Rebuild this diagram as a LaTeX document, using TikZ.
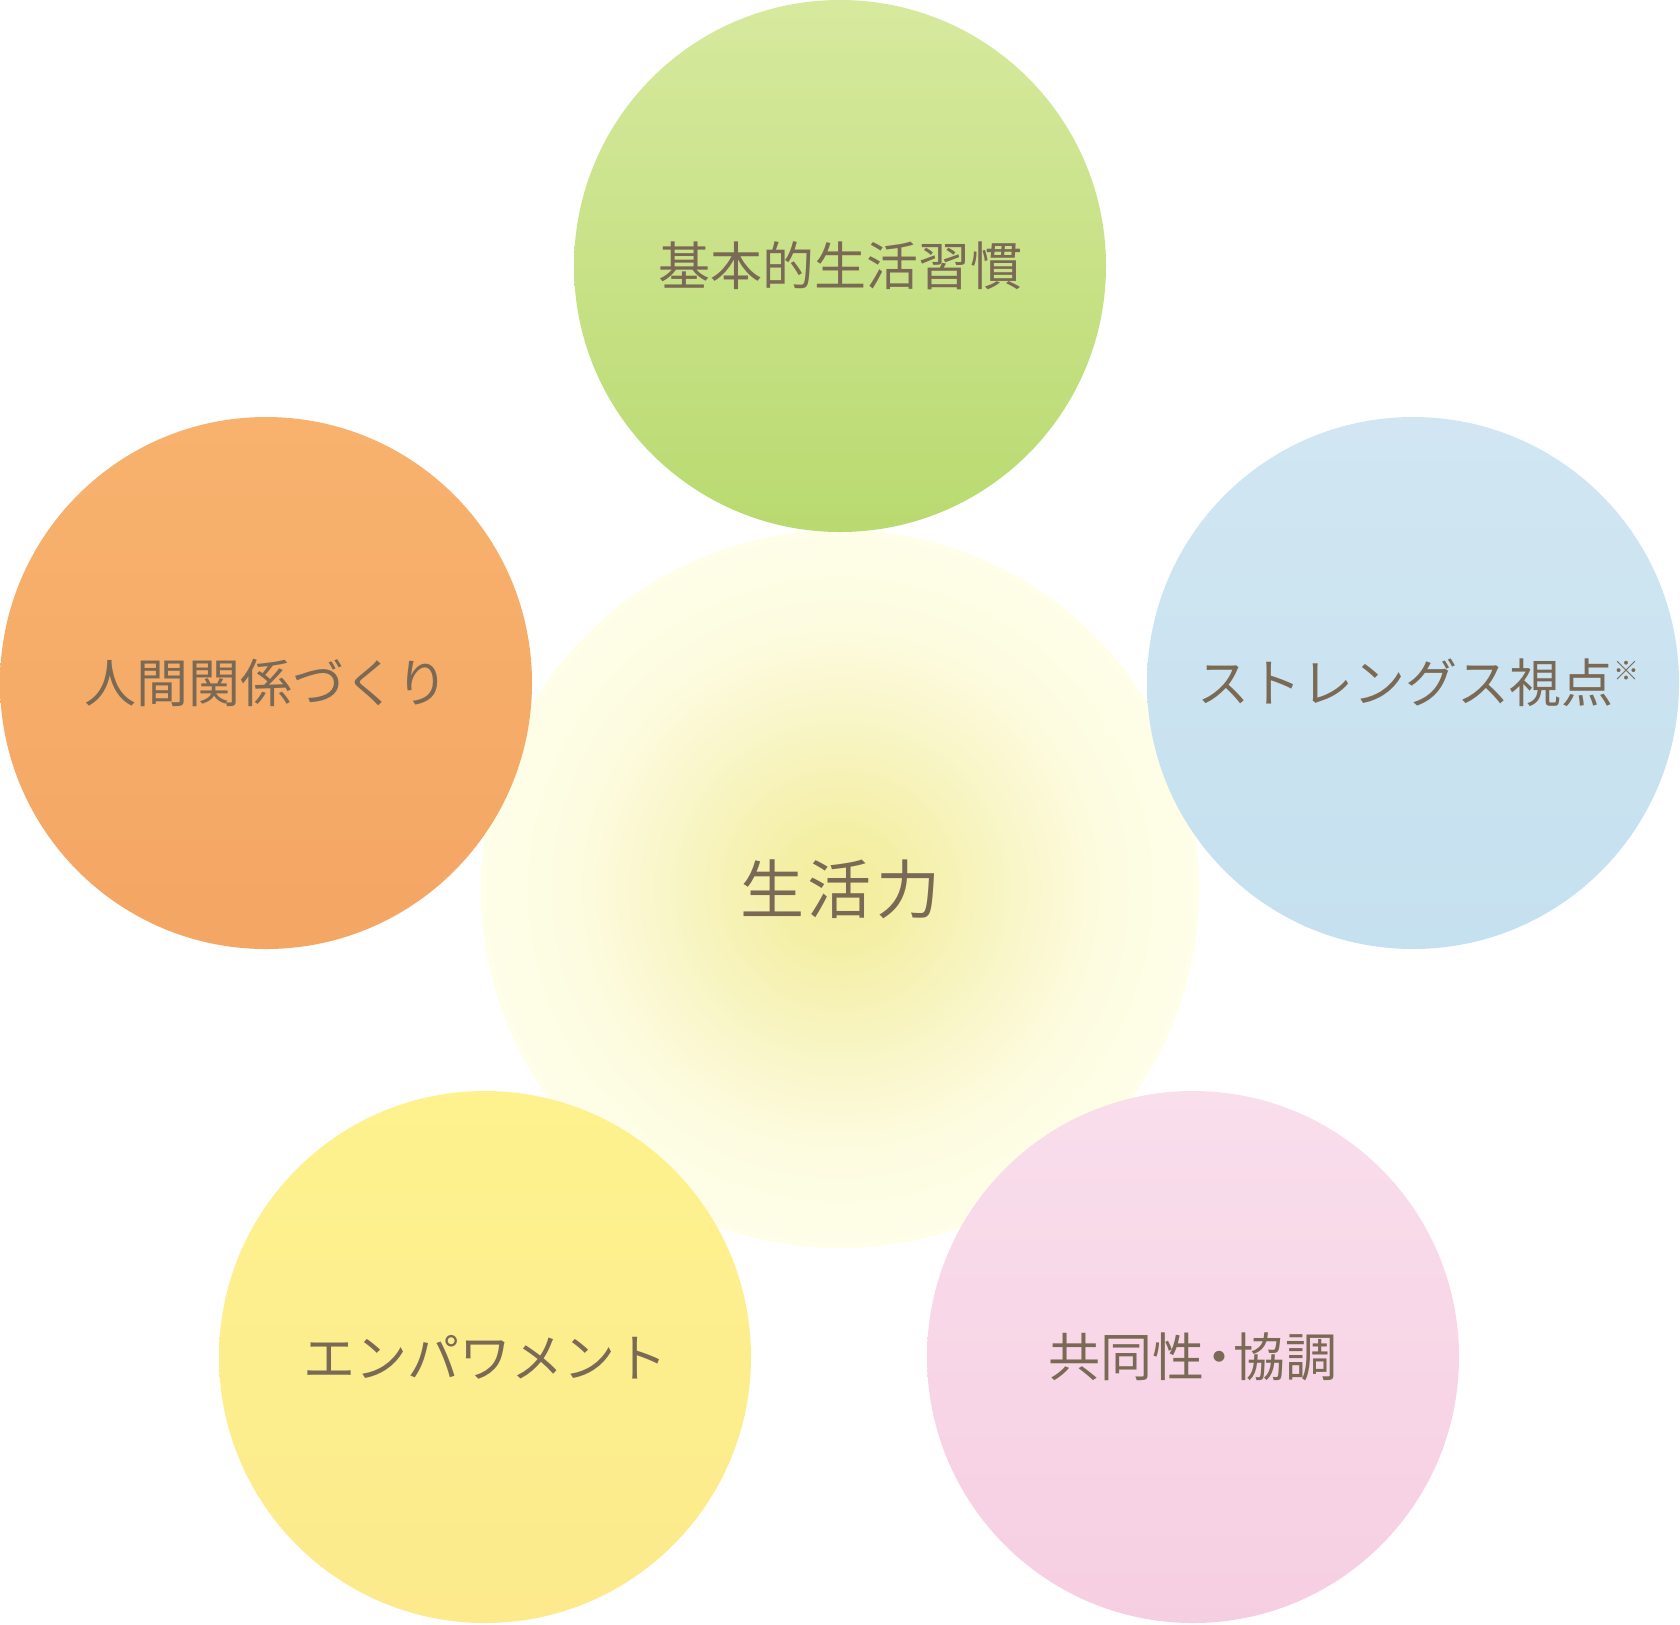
\documentclass[tikz,border=0pt]{standalone}
\usepackage{fontspec}
\newfontfamily\jpfont{Noto Sans CJK JP}
\usepackage{xcolor}
\usepackage{tikz}

\definecolor{ink}{HTML}{7A6A55}
\definecolor{glowin}{HTML}{F2ED9C}
\definecolor{glowa}{HTML}{F4EFA5}
\definecolor{glowb}{HTML}{F9F6CA}
\definecolor{glowc}{HTML}{FDFCE0}
\definecolor{glowout}{HTML}{FEFEE9}
\pgfdeclareradialshading{coreglow}{\pgfpoint{0bp}{0bp}}{color(0bp)=(glowin); color(4bp)=(glowa); color(12.5bp)=(glowb); color(18.5bp)=(glowc); color(25bp)=(glowout); color(50bp)=(glowout)}

\begin{document}
\begin{tikzpicture}[x=0.5pt, y=-0.5pt,
		bubble/.style={circle, minimum size=266pt, inner sep=0pt, text=ink, font=\jpfont\fontsize{26}{30}\selectfont},
		core/.style={circle, minimum size=359pt, inner sep=0pt, shading=coreglow, text=ink, font=\jpfont\fontsize{32}{36}\selectfont}]
			\useasboundingbox (0,0) rectangle (1680,1624);

			\node[core] (life) at (840,889) {生\hspace{2pt}活\hspace{2pt}力};

			\node[bubble, top color={rgb,255:red,215;green,233;blue,158}, bottom color={rgb,255:red,185;green,218;blue,112}] (habit) at (840,266) {基本的生活習慣};
			\node[bubble, top color={rgb,255:red,248;green,178;blue,110}, bottom color={rgb,255:red,244;green,166;blue,100}] (bond) at (266,683) {人間関係づくり};
			\node[bubble, top color={rgb,255:red,209;green,230;blue,242}, bottom color={rgb,255:red,197;green,224;blue,239}] (view) at (1413,683) {};
			\node[text=ink, font=\jpfont\fontsize{26}{30}\selectfont] (viewtext) at (1418,683) {ストレングス視点\raisebox{11pt}{\fontsize{13}{13}\selectfont ※}};
			\node[bubble, top color={rgb,255:red,253;green,242;blue,142}, bottom color={rgb,255:red,252;green,234;blue,140}] (power) at (485,1357) {エンパワメント};
			\node[bubble, top color={rgb,255:red,249;green,222;blue,236}, bottom color={rgb,255:red,246;green,206;blue,226}] (coop) at (1193,1357) {共同性\kern-0.22em・\kern-0.22em協調};
\end{tikzpicture}
\end{document}
